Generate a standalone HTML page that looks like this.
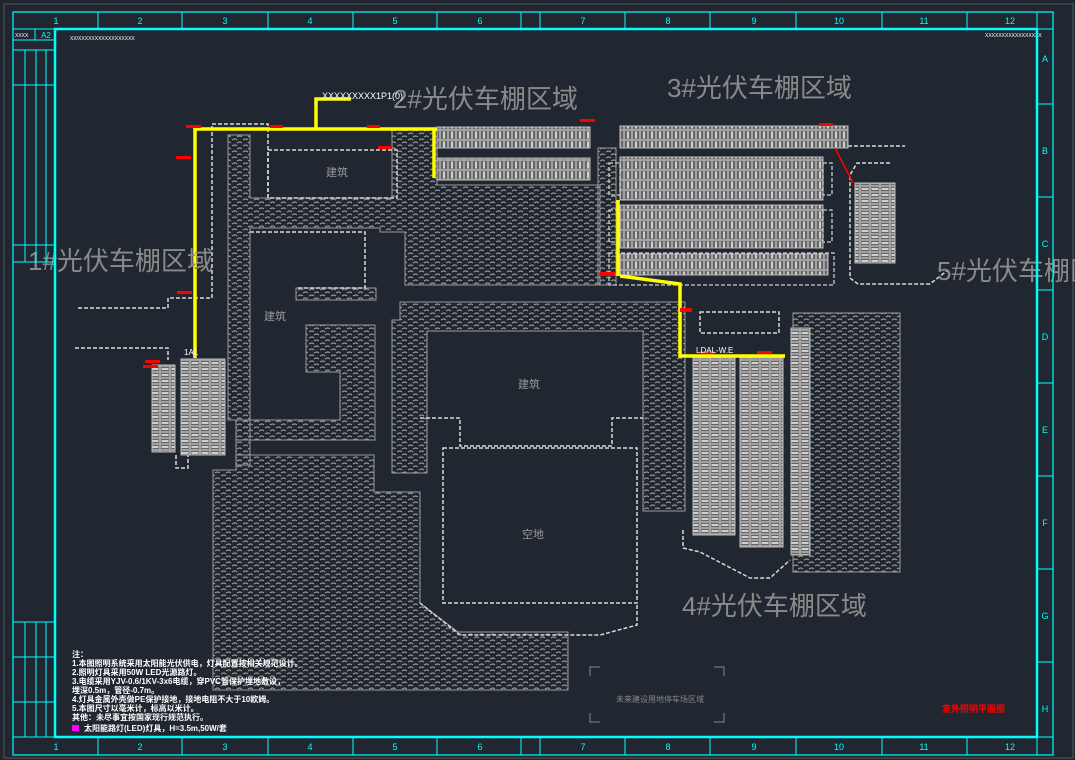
<!DOCTYPE html>
<html><head><meta charset="utf-8"><style>
html,body{margin:0;padding:0;background:#212730;}
svg{display:block}
text{font-family:"Liberation Sans","Noto Sans CJK SC",sans-serif}
</style></head><body>
<svg width="1075" height="760" viewBox="0 0 1075 760" xmlns="http://www.w3.org/2000/svg">
<defs>
<pattern id="h" width="11" height="6" patternUnits="userSpaceOnUse">
<path d="M1 2 q3 -2 5 0 M6 5 q3 -2 5 0" stroke="#939393" stroke-width="1.2" fill="none"/>
</pattern>
<pattern id="pv" width="8" height="10" patternUnits="userSpaceOnUse">
<rect width="8" height="10" fill="#666"/>
<rect x="0.5" y="0.5" width="7" height="9" fill="none" stroke="#a0a0a0" stroke-width="1"/>
<path d="M4 1.5 v7" stroke="#f4f4f4" stroke-width="1.5"/>
</pattern>
<pattern id="ph" width="10" height="6" patternUnits="userSpaceOnUse">
<rect width="10" height="6" fill="#666"/>
<rect x="0.5" y="0.5" width="9" height="5" fill="none" stroke="#a0a0a0" stroke-width="1"/>
<path d="M1.5 3 h7" stroke="#f4f4f4" stroke-width="1.5"/>
</pattern>
</defs>
<rect width="1075" height="760" fill="#212730"/>
<rect x="4" y="4" width="1069" height="754" fill="none" stroke="#555" stroke-width="1"/>

<g fill="url(#h)" stroke="#9a9a9a" stroke-width="1">
<polygon points="228,135 250,135 250,198 392,198 392,130 437,130 437,185 600,185 600,285 405,285 405,232 380,232 380,228 250,228 250,465 236,465 236,420 228,420"/>
<polygon points="306,325 375,325 375,440 236,440 236,420 340,420 340,372 306,372"/>
<polygon points="296,288 376,288 376,300 296,300"/>
<polygon points="213,470 236,470 236,455 374,455 374,492 420,492 420,603 458,632 568,632 568,690 213,690"/>
<polygon points="400,302 685,302 685,511 643,511 643,418 643,331 427,331 427,473 392,473 392,320 400,320"/>
<polygon points="793,313 900,313 900,572 793,572"/>
<polygon points="598,148 616,148 616,285 598,285"/>
</g>

<g fill="none" stroke="#d8d8d8" stroke-width="1.5" stroke-dasharray="4 2">
<polyline points="78,308 168,308 168,298 212,298 212,124 268,124 268,196"/>
<polyline points="75,348 168,348 168,360"/>
<polyline points="250,232 365,232 365,288 296,288"/>
<rect x="268" y="150" width="129" height="48"/>
<rect x="443" y="448" width="194" height="155"/>
<polyline points="420,418 460,418 460,446 612,446 612,418 643,418"/>
<rect x="700" y="312" width="79" height="21"/>
<polyline points="848,146 905,146"/>
<polyline points="890,163 857,163 850,175 850,278 858,284 930,284 948,270"/>
<polyline points="683,530 683,548 700,552 750,578 770,578 790,560"/>
<polyline points="637,605 637,625 600,635 460,635 420,603"/>
<polyline points="176,455 176,468 188,468 188,455"/>
</g>

<g stroke="#bbb" stroke-width="1">
<rect x="437" y="127" width="153" height="21" fill="url(#pv)"/>
<rect x="437" y="158" width="153" height="22" fill="url(#pv)"/>
<rect x="620" y="126" width="228" height="22" fill="url(#pv)"/>
<rect x="620" y="157" width="203" height="43" fill="url(#pv)"/>
<rect x="620" y="205" width="203" height="43" fill="url(#pv)"/>
<rect x="620" y="254" width="208" height="21" fill="url(#pv)"/>
<rect x="855" y="183" width="40" height="80" fill="url(#ph)"/>
<rect x="152" y="365" width="23" height="87" fill="url(#ph)"/>
<rect x="181" y="359" width="44" height="96" fill="url(#ph)"/>
<rect x="693" y="358" width="42" height="177" fill="url(#ph)"/>
<rect x="740" y="358" width="43" height="189" fill="url(#ph)"/>
<rect x="791" y="328" width="19" height="227" fill="url(#ph)"/>
</g>
<g fill="none" stroke="#ccc" stroke-width="1.3" stroke-dasharray="4 2">
<rect x="609" y="163" width="11" height="32"/><rect x="609" y="210" width="11" height="32"/>
<rect x="823" y="163" width="9" height="32"/><rect x="823" y="210" width="9" height="32"/>
<rect x="609" y="253" width="225" height="32"/>
</g>

<g stroke="#ffff00" stroke-width="3.5" fill="none">
<polyline points="195,358 195,129 437,129"/>
<polyline points="316,129 316,99 351,99"/>
<polyline points="434,129 434,178"/>
<polyline points="620,276 680,284 680,356 785,356"/>
<polyline points="618,200 618,276"/>
</g>

<g fill="#ff0000">
<rect x="186" y="125" width="15" height="3"/><rect x="176" y="156" width="15" height="3"/>
<rect x="177" y="291" width="15" height="3"/><rect x="270" y="125" width="13" height="3"/>
<rect x="367" y="125" width="13" height="3"/><rect x="378" y="146" width="14" height="3"/>
<rect x="580" y="119" width="15" height="3"/><rect x="819" y="123" width="14" height="3"/>
<rect x="600" y="272" width="15" height="4"/><rect x="680" y="308" width="12" height="4"/>
<rect x="145" y="360" width="15" height="3"/><rect x="143" y="365" width="15" height="3"/>
<rect x="700" y="351" width="15" height="3"/><rect x="757" y="351" width="15" height="3"/>
</g>
<text x="942" y="712" fill="#ff0000" font-size="9" font-weight="bold">室外照明平面图</text>
<path d="M835 148 L853 183" stroke="#f00" stroke-width="1.5"/>

<g fill="#8a8a8a" font-size="26">
<text x="393" y="108">2#光伏车棚区域</text>
<text x="667" y="97">3#光伏车棚区域</text>
<text x="28" y="270">1#光伏车棚区域</text>
<text x="937" y="280">5#光伏车棚区域</text>
<text x="682" y="615">4#光伏车棚区域</text>
</g>
<g fill="#999" font-size="11">
<text x="326" y="176">建筑</text><text x="264" y="320">建筑</text>
<text x="518" y="388">建筑</text><text x="522" y="538">空地</text>
</g>
<text x="322" y="99" fill="#fff" font-size="9">XXXXXXXXX1P1(0)</text>
<text x="696" y="353" fill="#fff" font-size="8">LDAL-W.E</text>
<text x="184" y="355" fill="#fff" font-size="8">1AL</text>

<g stroke="#888" fill="none" stroke-width="1">
<path d="M590 676 v-9 h10 M724 676 v-9 h-10 M590 713 v9 h10 M724 713 v9 h-10"/>
</g>
<text x="616" y="702" fill="#888" font-size="8">未来建设用地停车场区域</text>

<g fill="#fff" font-size="8" font-weight="bold">
<text x="72" y="657">注：</text>
<text x="72" y="666">1.本图照明系统采用太阳能光伏供电，灯具配置按相关规范设计。</text>
<text x="72" y="675">2.照明灯具采用50W LED光源路灯。</text>
<text x="72" y="684">3.电缆采用YJV-0.6/1KV-3x6电缆，穿PVC管保护埋地敷设，</text>
<text x="72" y="693">埋深0.5m，管径-0.7m。</text>
<text x="72" y="702">4.灯具金属外壳做PE保护接地，接地电阻不大于10欧姆。</text>
<text x="72" y="711">5.本图尺寸以毫米计，标高以米计。</text>
<text x="72" y="720">其他：未尽事宜按国家现行规范执行。</text>
<text x="84" y="731">太阳能路灯(LED)灯具，H=3.5m,50W/套</text>
</g>
<rect x="72" y="725" width="7" height="6" fill="#ff00ff"/>
<text x="70" y="40" fill="#fff" font-size="5">XX/XXXXXXXXXXXXXXXXX</text>
<text x="985" y="37" fill="#fff" font-size="5">XXXXXXXXXXXXXXXXX</text>

<g stroke="#00ffff" fill="none">
<rect x="13" y="12" width="1040" height="743" stroke-width="1.2"/>
<rect x="55" y="29" width="982" height="708" stroke-width="2.5"/>
<line x1="13" y1="29" x2="1053" y2="29"/><line x1="13" y1="737" x2="1053" y2="737"/>
<line x1="1037" y1="12" x2="1037" y2="755"/>
<g stroke-width="1">
<line x1="98" y1="12" x2="98" y2="29"/><line x1="182" y1="12" x2="182" y2="29"/><line x1="268" y1="12" x2="268" y2="29"/><line x1="353" y1="12" x2="353" y2="29"/><line x1="437" y1="12" x2="437" y2="29"/><line x1="521" y1="12" x2="521" y2="29"/><line x1="540" y1="12" x2="540" y2="29"/><line x1="625" y1="12" x2="625" y2="29"/><line x1="710" y1="12" x2="710" y2="29"/><line x1="796" y1="12" x2="796" y2="29"/><line x1="882" y1="12" x2="882" y2="29"/><line x1="967" y1="12" x2="967" y2="29"/>
<line x1="98" y1="737" x2="98" y2="755"/><line x1="182" y1="737" x2="182" y2="755"/><line x1="268" y1="737" x2="268" y2="755"/><line x1="353" y1="737" x2="353" y2="755"/><line x1="437" y1="737" x2="437" y2="755"/><line x1="521" y1="737" x2="521" y2="755"/><line x1="540" y1="737" x2="540" y2="755"/><line x1="625" y1="737" x2="625" y2="755"/><line x1="710" y1="737" x2="710" y2="755"/><line x1="796" y1="737" x2="796" y2="755"/><line x1="882" y1="737" x2="882" y2="755"/><line x1="967" y1="737" x2="967" y2="755"/>
<line x1="1037" y1="104" x2="1053" y2="104"/><line x1="1037" y1="197" x2="1053" y2="197"/><line x1="1037" y1="290" x2="1053" y2="290"/><line x1="1037" y1="383" x2="1053" y2="383"/><line x1="1037" y1="476" x2="1053" y2="476"/><line x1="1037" y1="569" x2="1053" y2="569"/><line x1="1037" y1="662" x2="1053" y2="662"/>
<line x1="13" y1="40" x2="55" y2="40"/><line x1="13" y1="50" x2="55" y2="50"/><line x1="13" y1="85" x2="55" y2="85"/><line x1="13" y1="245" x2="55" y2="245"/><line x1="13" y1="262" x2="55" y2="262"/>
<line x1="13" y1="622" x2="55" y2="622"/><line x1="13" y1="657" x2="55" y2="657"/><line x1="13" y1="702" x2="55" y2="702"/>
<line x1="35" y1="29" x2="35" y2="40"/>
<line x1="25" y1="50" x2="25" y2="262"/><line x1="36" y1="50" x2="36" y2="262"/><line x1="46" y1="50" x2="46" y2="262"/>
<line x1="25" y1="622" x2="25" y2="737"/><line x1="36" y1="622" x2="36" y2="737"/><line x1="46" y1="622" x2="46" y2="737"/>
</g>
</g>
<g fill="#00ffff" font-size="9" text-anchor="middle">
<text x="56" y="24">1</text><text x="140" y="24">2</text><text x="225" y="24">3</text><text x="310" y="24">4</text><text x="395" y="24">5</text><text x="480" y="24">6</text><text x="583" y="24">7</text><text x="668" y="24">8</text><text x="754" y="24">9</text><text x="839" y="24">10</text><text x="924" y="24">11</text><text x="1010" y="24">12</text>
<text x="56" y="750">1</text><text x="140" y="750">2</text><text x="225" y="750">3</text><text x="310" y="750">4</text><text x="395" y="750">5</text><text x="480" y="750">6</text><text x="583" y="750">7</text><text x="668" y="750">8</text><text x="754" y="750">9</text><text x="839" y="750">10</text><text x="924" y="750">11</text><text x="1010" y="750">12</text>
<text x="1045" y="62">A</text><text x="1045" y="154">B</text><text x="1045" y="247">C</text><text x="1045" y="340">D</text><text x="1045" y="433">E</text><text x="1045" y="526">F</text><text x="1045" y="619">G</text><text x="1045" y="712">H</text>
<text x="46" y="38" font-size="8">A2</text>
</g>
<g fill="#fff" font-size="5"><text x="15" y="37">XXXX</text></g>
</svg>
</body></html>
